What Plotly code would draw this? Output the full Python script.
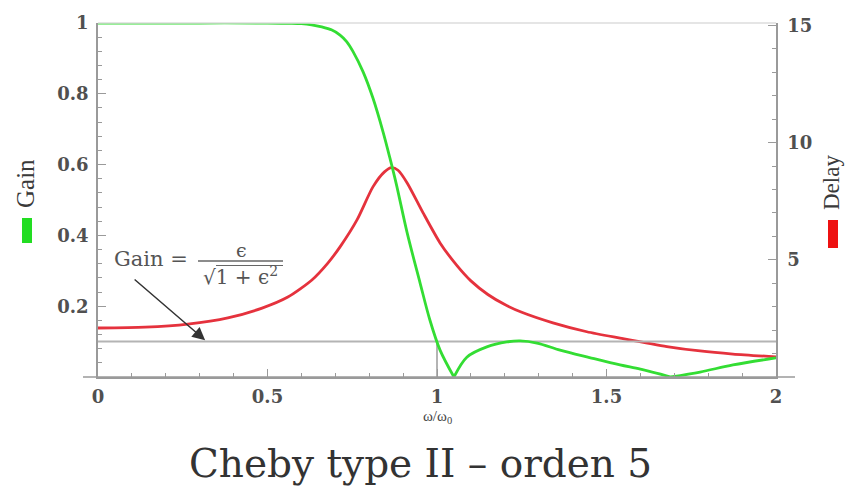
import plotly.graph_objects as go

# ---------------- data ----------------
# Gain (left axis), split at the two transmission zeros
gain_x_pass = [0.0, 0.3, 0.5, 0.56, 0.60, 0.63, 0.66, 0.69, 0.714, 0.734, 0.752, 0.782, 0.811,
               0.841, 0.861, 0.880, 0.912, 0.950, 0.979, 1.009, 1.05]
gain_y_pass = [1.0, 1.0, 1.0, 0.999, 0.998, 0.995, 0.989, 0.980, 0.966, 0.947, 0.920, 0.862, 0.788,
               0.692, 0.619, 0.545, 0.407, 0.266, 0.161, 0.076, 0.0]
gain_x_stop1 = [1.05, 1.088, 1.147, 1.206, 1.245, 1.295, 1.363, 1.45, 1.54, 1.60, 1.69]
gain_y_stop1 = [0.0, 0.056, 0.085, 0.099, 0.102, 0.096, 0.076, 0.055, 0.034, 0.022, 0.0]
gain_x_stop2 = [1.69, 1.776, 1.873, 2.0]
gain_y_stop2 = [0.0, 0.014, 0.034, 0.054]

# Group delay (right axis)
delay_x = [0.0, 0.139, 0.265, 0.383, 0.484, 0.560, 0.631, 0.678, 0.714, 0.764, 0.811,
           0.845, 0.866, 0.885, 0.912, 0.959, 1.009, 1.059, 1.10, 1.15, 1.20, 1.25,
           1.342, 1.442, 1.540, 1.678, 1.776, 1.873, 2.0]
delay_y = [2.09, 2.13, 2.26, 2.52, 2.94, 3.41, 4.14, 4.86, 5.55, 6.70, 8.11,
           8.75, 8.93, 8.82, 8.28, 7.00, 5.72, 4.75, 4.10, 3.52, 3.09, 2.76,
           2.31, 1.93, 1.66, 1.30, 1.11, 0.98, 0.86]

stop_level = 0.1          # Gain = eps / sqrt(1+eps^2)
stop_edge = 1.0

x_ticks = [0, 0.5, 1, 1.5, 2]
x_ticktext = ["0", "0.5", "1", "1.5", "2"]
gain_ticks = [0.2, 0.4, 0.6, 0.8, 1]
gain_ticktext = ["0.2", "0.4", "0.6", "0.8", "1"]
delay_ticks = [5, 10, 15]
delay_ticktext = ["5", "10", "15"]

title_text = "Cheby type II – orden 5"
xlabel_text = "ω/ω<sub>0</sub>"

# ---------------- layout helpers ----------------
W, H = 850, 495
L, R, T, B = 98, 74, 23, 118
PW, PH = W - L - R, H - T - B


def px(x):
    return (x - L) / PW


def py(y):
    return (H - B - y) / PH


GREEN = "#33dd33"
RED = "#e5323d"
GRAY = "#b4b4b4"
AX = "#9a9a9a"
TXT = "#505050"
SERIF = "Liberation Serif"
WIDE = "DejaVu Serif"

fig = go.Figure()

# delay on primary (drawn first, below gain)
fig.add_trace(go.Scatter(x=delay_x, y=delay_y, mode="lines", yaxis="y",
                         line=dict(color=RED, width=2.8, shape="spline", smoothing=0.7),
                         showlegend=False, hoverinfo="skip"))
# stopband reference lines
fig.add_trace(go.Scatter(x=[x_ticks[0], x_ticks[-1]], y=[stop_level, stop_level], mode="lines",
                         yaxis="y2", line=dict(color=GRAY, width=2), showlegend=False))
fig.add_trace(go.Scatter(x=[stop_edge, stop_edge], y=[0, stop_level], mode="lines",
                         yaxis="y2", line=dict(color=GRAY, width=2), showlegend=False))
for gx, gy in [(gain_x_pass, gain_y_pass), (gain_x_stop1, gain_y_stop1), (gain_x_stop2, gain_y_stop2)]:
    fig.add_trace(go.Scatter(x=gx, y=gy, mode="lines", yaxis="y2",
                             line=dict(color=GREEN, width=2.8, shape="spline", smoothing=0.9),
                             showlegend=False, hoverinfo="skip"))

tickfont = dict(family=WIDE, size=18, color=TXT, weight="bold")

fig.update_layout(
    width=W, height=H,
    margin=dict(l=L, r=R, t=T, b=B),
    paper_bgcolor="white", plot_bgcolor="white",
    xaxis=dict(range=[0, 2], tickvals=x_ticks, ticktext=x_ticktext, showgrid=False,
               zeroline=False, showline=True, linecolor=AX, linewidth=1.5,
               ticks="inside", ticklen=8, tickcolor=AX, tickwidth=1.2,
               minor=dict(tickmode="linear", tick0=0, dtick=0.1, ticks="inside",
                          ticklen=4, tickcolor=AX),
               tickfont=tickfont, ticklabelstandoff=3),
    yaxis=dict(range=[0, 15.1], side="right", tickvals=delay_ticks, ticktext=delay_ticktext,
               showgrid=False, zeroline=False, showline=True, linecolor=AX, linewidth=1.5,
               ticks="inside", ticklen=8, tickcolor=AX, tickwidth=1.2,
               minor=dict(tickmode="linear", tick0=0, dtick=1, ticks="inside",
                          ticklen=4, tickcolor=AX),
               tickfont=tickfont, ticklabelstandoff=6),
    yaxis2=dict(range=[0, 1], side="left", overlaying="y", tickvals=gain_ticks,
                ticktext=gain_ticktext, showgrid=False, zeroline=False, showline=True,
                linecolor=AX, linewidth=1.5, ticks="inside", ticklen=8, tickcolor=AX,
                tickwidth=1.2,
                minor=dict(tickmode="linear", tick0=0, dtick=0.04, ticks="inside",
                           ticklen=4, tickcolor=AX),
                tickfont=tickfont, ticklabelstandoff=4),
)

shapes = [
    # extended bottom axis line
    dict(type="line", xref="paper", yref="paper", x0=px(83), x1=px(795), y0=0, y1=0,
         line=dict(color=AX, width=1.5)),
    # faint top frame
    dict(type="line", xref="paper", yref="paper", x0=0, x1=1, y0=1, y1=1,
         line=dict(color="#dddddd", width=1.5)),
    # legend bars
    dict(type="rect", xref="paper", yref="paper", x0=px(22), x1=px(32), y0=py(243), y1=py(218),
         fillcolor="#22dd22", line=dict(width=0)),
    dict(type="rect", xref="paper", yref="paper", x0=px(828), x1=px(838), y0=py(248), y1=py(220),
         fillcolor="#ee1111", line=dict(width=0)),
    # fraction bar and radical overline
    dict(type="line", xref="paper", yref="paper", x0=px(198), x1=px(283), y0=py(261), y1=py(261),
         line=dict(color="#666666", width=1.4)),
    dict(type="line", xref="paper", yref="paper", x0=px(216), x1=px(283), y0=py(265.5), y1=py(265.5),
         line=dict(color="#666666", width=1.0)),
]
fig.update_layout(shapes=shapes)

ann = [
    dict(text=title_text, xref="paper", yref="paper", x=px(420), y=py(463), showarrow=False,
         font=dict(family=WIDE, size=39, color="#333333"), xanchor="center", yanchor="middle"),
    dict(text=xlabel_text, xref="paper", yref="paper", x=px(437), y=py(417), showarrow=False,
         font=dict(family=SERIF, size=15, color="#444444"), xanchor="center", yanchor="middle"),
    dict(text="Gain", xref="paper", yref="paper", x=px(25), y=py(184), showarrow=False,
         textangle=-90, font=dict(family=SERIF, size=25, color="#3a3a3a"),
         xanchor="center", yanchor="middle"),
    dict(text="Delay", xref="paper", yref="paper", x=px(831), y=py(183), showarrow=False,
         textangle=-90, font=dict(family=SERIF, size=23, color="#3a3a3a"),
         xanchor="center", yanchor="middle"),
    dict(text="Gain =", xref="paper", yref="paper", x=px(112), y=py(259), showarrow=False,
         font=dict(family=WIDE, size=21, color="#555555"), xanchor="left", yanchor="middle"),
    dict(text="ϵ", xref="paper", yref="paper", x=px(241), y=py(250), showarrow=False,
         font=dict(family=WIDE, size=19, color="#555555"), xanchor="center", yanchor="middle"),
    dict(text="√1 + ϵ<sup>2</sup>", xref="paper", yref="paper", x=px(240), y=py(276),
         showarrow=False, font=dict(family=WIDE, size=20, color="#555555"),
         xanchor="center", yanchor="middle"),
    # arrow pointing at the stopband level
    dict(text="", x=0.316, y=stop_level + 0.004, xref="x", yref="y2", showarrow=True,
         ax=-72, ay=-62, arrowhead=2, arrowsize=1.7, arrowwidth=1.5, arrowcolor="#333333"),
]
fig.update_layout(annotations=ann)

fig.write_html("out.html")
